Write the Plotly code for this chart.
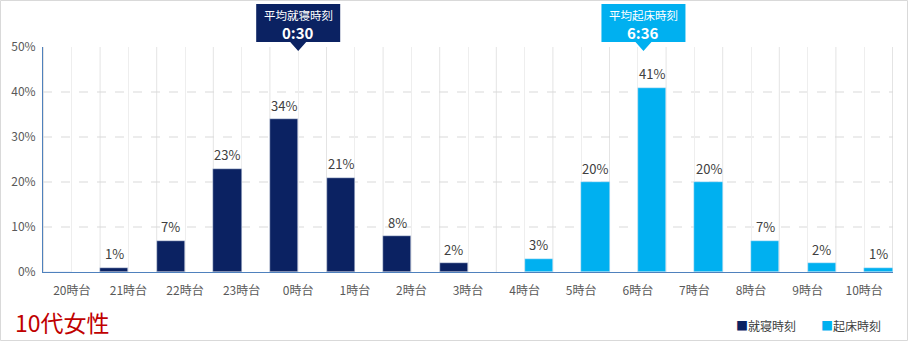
import plotly.graph_objects as go

categories = ["20時台", "21時台", "22時台", "23時台", "0時台", "1時台", "2時台", "3時台",
              "4時台", "5時台", "6時台", "7時台", "8時台", "9時台", "10時台"]
bedtime = [0, 1, 7, 23, 34, 21, 8, 2, None, None, None, None, None, None, None]
waketime = [None, None, None, None, None, None, None, None, 3, 20, 41, 20, 7, 2, 1]
y_ticks = [0, 10, 20, 30, 40, 50]
y_tick_text = ["0%", "10%", "20%", "30%", "40%", "50%"]
series_names = ["就寝時刻", "起床時刻"]
avg_bed_label = "0:30"
avg_wake_label = "6:36"
avg_bed_pos = 4.0
avg_wake_pos = 10.1

NAVY = "#0b2262"
SKY = "#00b0f0"
FONT = "Noto Sans CJK JP"

fig = go.Figure()
for name, vals, col in [(series_names[0], bedtime, NAVY), (series_names[1], waketime, SKY)]:
    fig.add_trace(go.Bar(x=categories, y=vals, name=name, marker_color=col))

W, H = 908, 341
L, R, T, B = 43, 15, 47, 69
pw, ph = W - L - R, H - T - B

shapes = []
for i in range(len(categories) + 1):
    shapes.append(dict(type="line", xref="x", yref="paper", x0=i - 0.5, x1=i - 0.5, y0=0, y1=1,
                       line=dict(color="#e4e4e4", width=1), layer="below"))
for t in y_ticks[1:-1]:
    shapes.append(dict(type="line", xref="paper", yref="y", x0=0, x1=1, y0=t, y1=t,
                       line=dict(color="#d9d9d9", width=1, dash="dash"), layer="below"))

for pos, col in [(avg_bed_pos, NAVY), (avg_wake_pos, SKY)]:
    shapes.append(dict(type="path", xref="x", yref="paper", xsizemode="pixel", ysizemode="pixel",
                       xanchor=pos, yanchor=1,
                       path="M -42 43 L 42 43 L 42 5 L 8 5 L 0 -4 L -8 5 L -42 5 Z",
                       fillcolor=col, line=dict(width=0), layer="above"))

shapes.append(dict(type="rect", xref="paper", yref="paper",
                   x0=(0.5 - L) / pw, x1=(W - 0.5 - L) / pw,
                   y0=-(H - 0.5 - T - ph) / ph, y1=1 + (T - 0.5) / ph,
                   line=dict(color="#d9d9d9", width=1), fillcolor="rgba(0,0,0,0)", layer="below"))

annotations = []
# data labels above bars
for vals, off in [(bedtime, -0.25), (waketime, 0.25)]:
    for i, v in enumerate(vals):
        if v is not None and v > 0:
            annotations.append(dict(x=i + off, y=v, xref="x", yref="y", yshift=14, showarrow=False,
                                    text=f"{v}%", xanchor="center", yanchor="middle",
                                    font=dict(size=13, color="#404040", family=FONT)))

for pos, title, val in [(avg_bed_pos, "平均就寝時刻", avg_bed_label), (avg_wake_pos, "平均起床時刻", avg_wake_label)]:
    annotations.append(dict(x=pos, y=1, xref="x", yref="paper", yshift=32, showarrow=False,
                            text=title, font=dict(size=11.5, color="white", family=FONT),
                            xanchor="center", yanchor="middle"))
    annotations.append(dict(x=pos, y=1, xref="x", yref="paper", yshift=15, showarrow=False,
                            text=f"<b>{val}</b>", font=dict(size=15, color="white", family=FONT),
                            xanchor="center", yanchor="middle"))

annotations.append(dict(x=(13 - L) / pw, y=(272 - 322) / ph, xref="paper", yref="paper",
                        text="10代女性", showarrow=False, xanchor="left", yanchor="middle",
                        font=dict(size=23, color="#c00000", family=FONT)))

for xl, name, col in [(734, series_names[0], NAVY), (819, series_names[1], SKY)]:
    annotations.append(dict(x=(xl - L) / pw, y=(272 - 325) / ph, xref="paper", yref="paper",
                            text=f"<span style='color:{col}'>■</span>{name}", showarrow=False,
                            xanchor="left", yanchor="middle",
                            font=dict(size=12, color="#404040", family=FONT)))

fig.update_layout(
    width=W, height=H,
    margin=dict(l=L, r=R, t=T, b=B, autoexpand=False),
    paper_bgcolor="white", plot_bgcolor="white",
    barmode="group", bargap=0, bargroupgap=0,
    shapes=shapes, annotations=annotations,
    font=dict(family=FONT, color="#595959", size=12),
    showlegend=False,
)
fig.update_xaxes(type="category", showgrid=True, gridcolor="#eeeeee", gridwidth=1,
                 showline=True, linecolor="#4f81bd", linewidth=1, ticks="",
                 tickfont=dict(size=12, color="#595959", family=FONT), ticklabelstandoff=8)
fig.update_yaxes(range=[0, 50], tickvals=y_ticks, ticktext=y_tick_text, showgrid=False,
                 showline=True, linecolor="#4f81bd", linewidth=1, zeroline=False, ticks="",
                 tickfont=dict(size=12, color="#595959", family=FONT), ticklabelstandoff=4)

fig.write_html("out.html")
